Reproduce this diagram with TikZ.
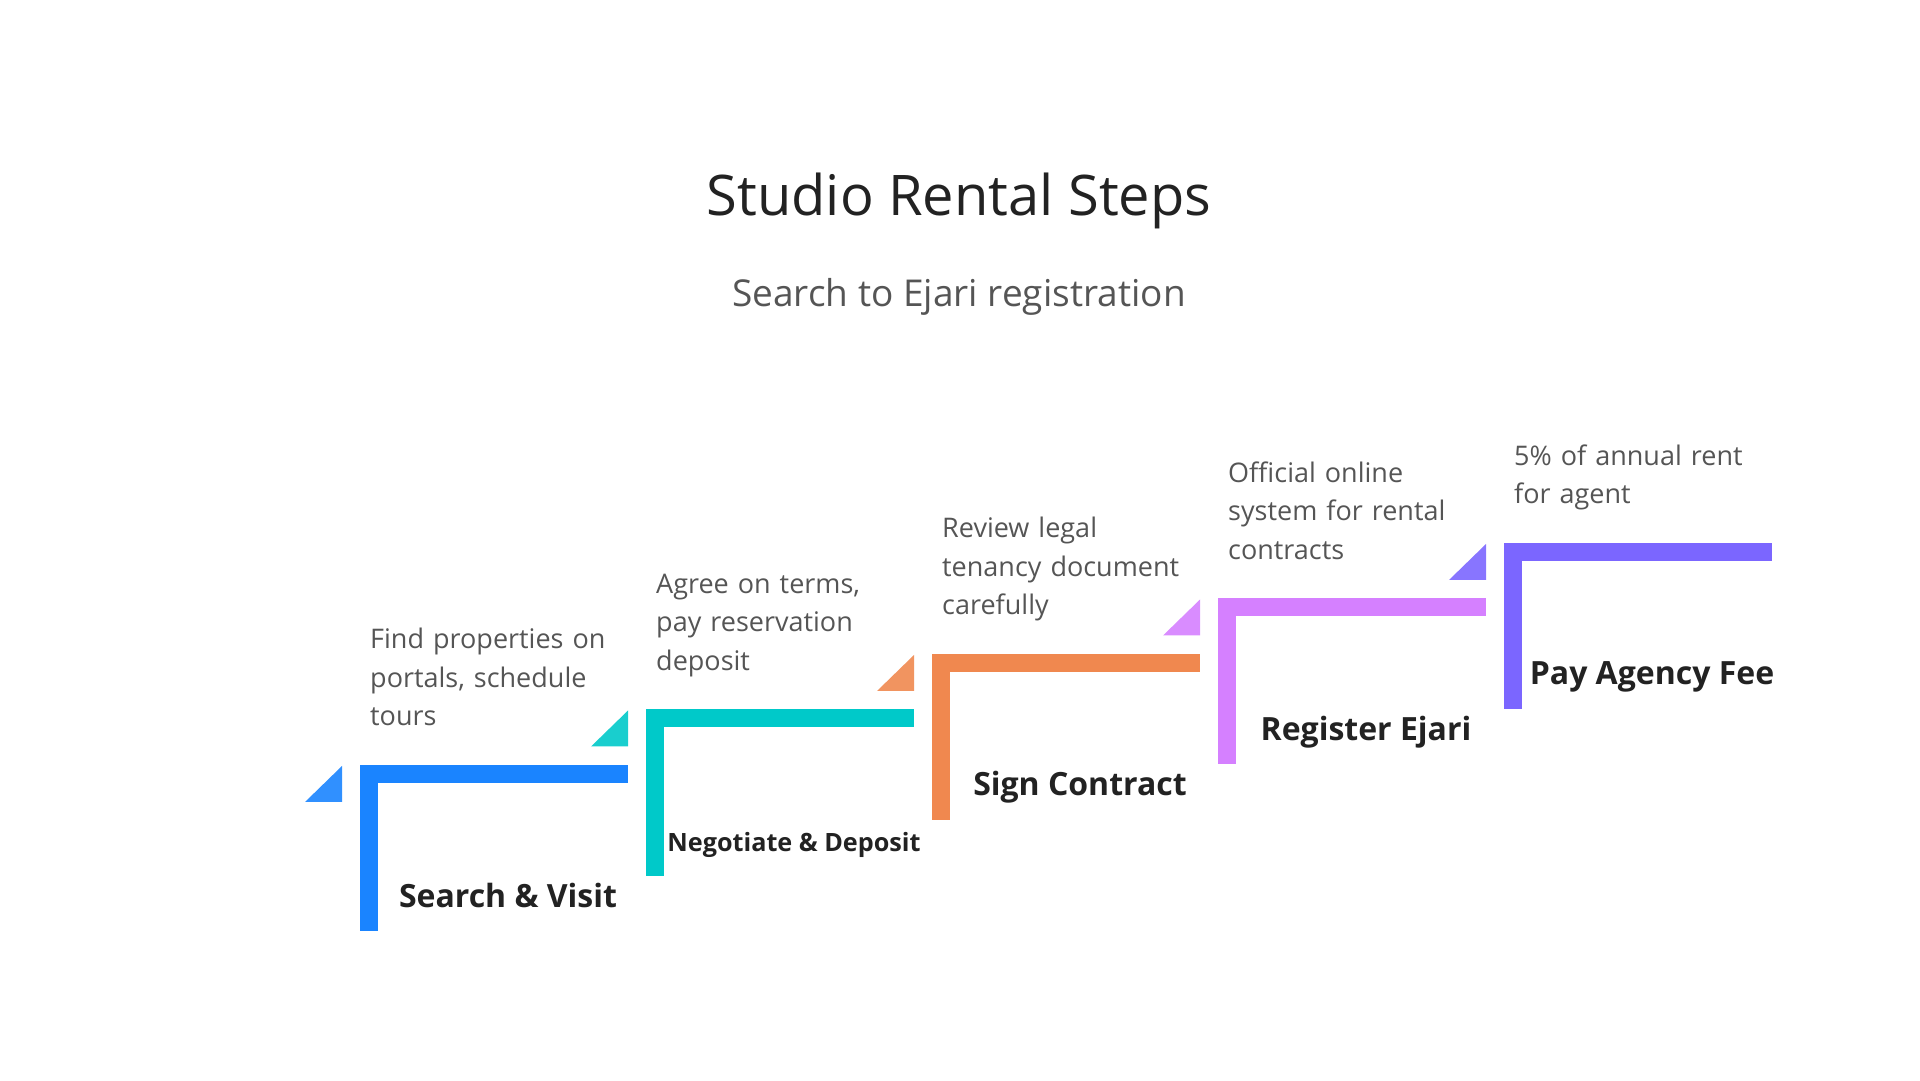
\documentclass[tikz,border=0pt]{standalone}
\usepackage{fontspec}
\setmainfont{Open Sans}
\usepackage{xcolor}
\usepackage{tikz}
\usetikzlibrary{positioning}
\definecolor{stepblue}{HTML}{1A84FF}
\definecolor{stepteal}{HTML}{00C9C9}
\definecolor{steporange}{HTML}{F0884F}
\definecolor{steplilac}{HTML}{D580FF}
\definecolor{stepviolet}{HTML}{7B66FF}
\definecolor{titlegray}{HTML}{222222}
\definecolor{textgray}{HTML}{555555}

\begin{document}
\begin{tikzpicture}[x=1pt, y=1pt,
    desc/.style={anchor=south west, inner sep=0pt, text width=290pt, align=left,
                 text=textgray, font=\fontsize{27}{38.5}\selectfont},
    steplabel/.style={anchor=base, inner sep=0pt, text=titlegray}]
  \useasboundingbox (0,0) rectangle (1920,1080);

  % heading
  \node[anchor=base, inner sep=0pt, text=titlegray, font=\fontsize{56}{66}\selectfont]
    (title) at (959,864) {Studio Rental Steps};
  \node[anchor=base, inner sep=0pt, text=textgray, font=\fontsize{37}{44}\selectfont]
    (subtitle) at (959,773) {Search to Ejari registration};

  % the five steps
  \foreach \i/\col/\lsize/\name/\txt in {
      0/stepblue/32/{Search \& Visit}/{Find properties on\\portals, schedule\\tours},
      1/stepteal/25.2/{Negotiate \& Deposit}/{Agree on terms,\\pay reservation\\deposit},
      2/steporange/32/{Sign Contract}/{Review legal\\tenancy document\\carefully},
      3/steplilac/32/{Register Ejari}/{Official online\\system for rental\\contracts},
      4/stepviolet/32/{Pay Agency Fee}/{5\% of annual rent\\for agent}} {
    \pgfmathsetmacro{\x}{360+286*\i}
    \pgfmathsetmacro{\y}{315+55.5*\i}
    \fill[\col] (\x,\y) rectangle ++(268,-18);
    \fill[\col] (\x,\y) rectangle ++(18,-166);
    \fill[\col, opacity=0.9] (\x-55,\y-37) -- (\x-18,\y-1) -- (\x-18,\y-37) -- cycle;
    \node[steplabel, font=\fontsize{\lsize}{\lsize}\selectfont\bfseries]
      (label\i) at (\x+148,\y-142) {\name};
    \node[desc] (desc\i) at (\x+10,\y+27.5) {\txt\strut};
  }
\end{tikzpicture}
\end{document}
